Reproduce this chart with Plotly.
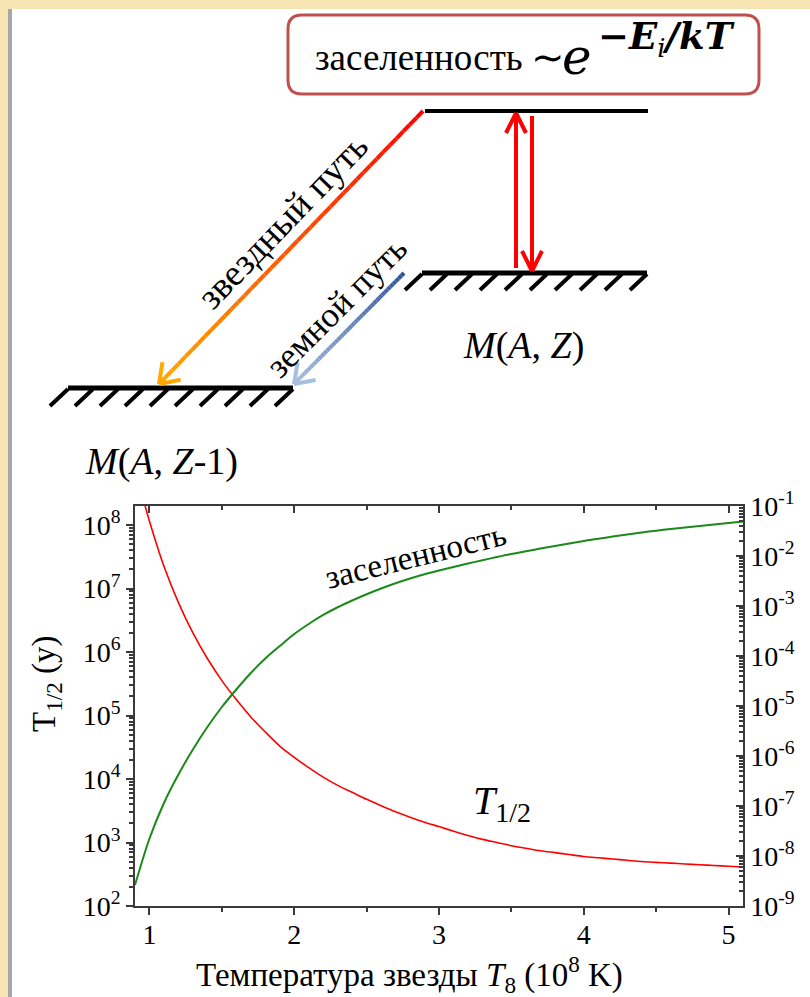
import math
import plotly.graph_objects as go

# ---------------- data ----------------
T_half = [0.97, 1.0, 1.1, 1.2, 1.3, 1.4, 1.5, 1.6, 1.7, 1.8, 1.9, 2.0, 2.1, 2.2, 2.3, 2.4,
          2.5, 2.6, 2.7, 2.8, 2.9, 3.0, 3.1, 3.2, 3.3, 3.4, 3.5, 3.6, 3.7, 3.8, 3.9, 4.0,
          4.1, 4.2, 4.3, 4.4, 4.5, 4.6, 4.7, 4.8, 4.9, 5.0, 5.1]
half_life_years = [2.0e8, 1.15e8, 2.24e7, 6.0e6, 2.0e6, 7.9e5, 3.55e5, 1.78e5, 9.5e4, 5.5e4,
                   3.3e4, 2.19e4, 1.51e4, 1.07e4, 7.94e3, 6.17e3, 4.79e3, 3.80e3, 3.05e3,
                   2.51e3, 2.09e3, 1.78e3, 1.51e3, 1.29e3, 1.12e3, 1.0e3, 891, 813, 741,
                   692, 646, 603, 575, 550, 525, 501, 486, 473, 459, 447, 434, 422, 412]

T_pop = [0.9, 1.0, 1.1, 1.2, 1.3, 1.4, 1.5, 1.6, 1.7, 1.8, 1.9, 2.0, 2.1, 2.2, 2.3, 2.4,
         2.5, 2.6, 2.7, 2.8, 2.9, 3.0, 3.1, 3.2, 3.3, 3.4, 3.5, 3.6, 3.7, 3.8, 3.9, 4.0,
         4.1, 4.2, 4.3, 4.4, 4.5, 4.6, 4.7, 4.8, 4.9, 5.0, 5.1]
population = [2.63e-9, 2.24e-8, 1.15e-7, 4.27e-7, 1.35e-6, 3.80e-6, 9.55e-6, 2.14e-5,
              4.57e-5, 8.91e-5, 1.58e-4, 2.75e-4, 4.37e-4, 6.61e-4, 9.44e-4, 1.29e-3,
              1.72e-3, 2.24e-3, 2.85e-3, 3.55e-3, 4.32e-3, 5.13e-3, 6.03e-3, 7.08e-3,
              8.22e-3, 9.55e-3, 1.10e-2, 1.24e-2, 1.41e-2, 1.58e-2, 1.78e-2, 2.0e-2,
              2.21e-2, 2.45e-2, 2.69e-2, 2.95e-2, 3.20e-2, 3.47e-2, 3.72e-2, 3.98e-2,
              4.27e-2, 4.57e-2, 4.90e-2]

x_tickvals = [1, 2, 3, 4, 5]
left_tickvals = [1e2, 1e3, 1e4, 1e5, 1e6, 1e7, 1e8]
left_ticktext = ["10<sup>2</sup>", "10<sup>3</sup>", "10<sup>4</sup>", "10<sup>5</sup>",
                 "10<sup>6</sup>", "10<sup>7</sup>", "10<sup>8</sup>"]
right_tickvals = [1e-9, 1e-8, 1e-7, 1e-6, 1e-5, 1e-4, 1e-3, 1e-2, 1e-1]
right_ticktext = ["10<sup>-9</sup>", "10<sup>-8</sup>", "10<sup>-7</sup>", "10<sup>-6</sup>",
                  "10<sup>-5</sup>", "10<sup>-4</sup>", "10<sup>-3</sup>", "10<sup>-2</sup>",
                  "10<sup>-1</sup>"]

# ---------------- layout geometry ----------------
W, H = 810, 997
PL, PR, PT, PB = 135, 743, 506, 906   # plot area in pixels
SERIF = "Liberation Serif"
MATH = "DejaVu Serif"


def px(x):
    return (x - PL) / (PR - PL)


def py(y):
    return (PB - y) / (PB - PT)


fig = go.Figure()
fig.add_trace(go.Scatter(x=T_half, y=half_life_years, mode="lines",
                         line=dict(color="#FF0000", width=1.6, shape="spline", smoothing=0.8),
                         xaxis="x", yaxis="y", hoverinfo="skip"))
fig.add_trace(go.Scatter(x=T_pop, y=population, mode="lines",
                         line=dict(color="#1A8A1A", width=2, shape="spline", smoothing=0.8),
                         xaxis="x2", yaxis="y2", hoverinfo="skip"))

AX = "#3A3A3A"
tickfont = dict(family=SERIF, size=28, color="black")

fig.update_layout(
    width=W, height=H, autosize=False,
    margin=dict(l=PL, r=W - PR, t=PT, b=H - PB, pad=0),
    paper_bgcolor="white", plot_bgcolor="white", showlegend=False,
    font=dict(family=SERIF),
    xaxis=dict(range=[0.9, 5.1], tickmode="array", tickvals=x_tickvals,
               ticks="outside", ticklen=7, tickwidth=1.5, tickcolor=AX, ticklabelstandoff=-4,
               minor=dict(dtick=0.5, tick0=1, ticks="outside", ticklen=4, tickcolor=AX, showgrid=False),
               showline=True, linecolor=AX, linewidth=1.5, showgrid=False, zeroline=False,
               tickfont=tickfont, anchor="y"),
    xaxis2=dict(range=[0.9, 5.1], overlaying="x", side="top", anchor="y2",
                tickmode="array", tickvals=x_tickvals, ticks="inside", ticklen=7, tickwidth=1.5,
                tickcolor=AX, showticklabels=False,
                minor=dict(dtick=0.5, tick0=1, ticks="inside", ticklen=4, tickcolor=AX, showgrid=False),
                showline=True, linecolor=AX, linewidth=1.5, showgrid=False, zeroline=False),
    yaxis=dict(type="log", range=[2, 8.3], tickmode="array", tickvals=left_tickvals,
               ticktext=left_ticktext, ticks="outside", ticklen=7, tickwidth=1.5, tickcolor=AX,
               minor=dict(dtick="D1", ticks="outside", ticklen=4, tickcolor=AX, showgrid=False),
               showline=True, linecolor=AX, linewidth=1.5, showgrid=False, zeroline=False,
               tickfont=tickfont, anchor="x"),
    yaxis2=dict(type="log", range=[-9, -1], overlaying="y", side="right", anchor="x2",
                tickmode="array", tickvals=right_tickvals, ticktext=right_ticktext,
                ticks="inside", ticklen=7, tickwidth=1.5, tickcolor=AX,
                minor=dict(dtick="D1", ticks="inside", ticklen=4, tickcolor=AX, showgrid=False),
                showline=True, linecolor=AX, linewidth=1.5, showgrid=False, zeroline=False,
                tickfont=tickfont),
)

# ---------------- decorative diagram (shapes) ----------------
shapes = []


def seg(x0, y0, x1, y1, color, width):
    shapes.append(dict(type="line", xref="paper", yref="paper",
                       x0=px(x0), y0=py(y0), x1=px(x1), y1=py(y1),
                       line=dict(color=color, width=width)))


def rect(x0, y0, x1, y1, color):
    shapes.append(dict(type="rect", xref="paper", yref="paper",
                       x0=px(x0), y0=py(y0), x1=px(x1), y1=py(y1),
                       line=dict(width=0), fillcolor=color, layer="below"))


def lerp_color(c0, c1, t):
    return "rgb(%d,%d,%d)" % tuple(round(a + (b - a) * t) for a, b in zip(c0, c1))


def gradient_arrow(x0, y0, x1, y1, c0, c1, width, head=22, n=40):
    for i in range(n):
        t0, t1 = i / n, (i + 1) / n
        seg(x0 + (x1 - x0) * t0, y0 + (y1 - y0) * t0,
            x0 + (x1 - x0) * t1, y0 + (y1 - y0) * t1,
            lerp_color(c0, c1, (t0 + t1) / 2), width)
    L = math.hypot(x1 - x0, y1 - y0)
    bx, by = (x0 - x1) / L, (y0 - y1) / L
    for ang in (35, -35):
        a = math.radians(ang)
        wx = bx * math.cos(a) - by * math.sin(a)
        wy = bx * math.sin(a) + by * math.cos(a)
        seg(x1, y1, x1 + wx * head, y1 + wy * head, lerp_color(c0, c1, 1), width)


def vert_arrow(x, y_from, y_to, color, width, head=20):
    seg(x, y_from, x, y_to, color, width)
    d = 1 if y_to > y_from else -1
    seg(x, y_to, x - 10, y_to - d * head, color, width)
    seg(x, y_to, x + 10, y_to - d * head, color, width)


def hatched_level(x0, x1, y, dx, dy, n=10):
    seg(x0, y, x1, y, "black", 5)
    step = (x1 - x0) / (n - 1)
    for k in range(n):
        xs = x0 + k * step
        seg(xs, y + 1, xs - dx, y + dy, "black", 4)


# page frame (beige border + grey line)
rect(0, 0, W, 9, "#F6E5B3")
rect(0, 0, 8, H, "#F6E5B3")
rect(8, 9, 12, H, "#A4A8AC")

# rounded box
bx0, by0, bx1, by1, r = 288, 15, 759, 94, 14
path = ("M {a},{b} L {c},{b} Q {d},{b} {d},{e} L {d},{f} Q {d},{g} {c},{g} "
        "L {a},{g} Q {h},{g} {h},{f} L {h},{e} Q {h},{b} {a},{b} Z").format(
    a=px(bx0 + r), b=py(by0), c=px(bx1 - r), d=px(bx1), e=py(by0 + r),
    f=py(by1 - r), g=py(by1), h=px(bx0))
shapes.append(dict(type="path", xref="paper", yref="paper", path=path,
                   line=dict(color="#C0504D", width=3), fillcolor="white"))

# upper (excited) level
seg(425, 111, 648, 111, "black", 4)
# lower right level M(A,Z)
hatched_level(422, 647, 273, 17, 290 - 273)
# lower left level M(A,Z-1)
hatched_level(68, 293, 388, 18, 406 - 388)

# vertical red arrows
vert_arrow(516, 268, 113, "#FF0000", 4)
vert_arrow(532, 116, 271, "#FF0000", 4)

# stellar path (red -> orange)
gradient_arrow(423, 111, 159, 384, (255, 0, 0), (255, 168, 0), 4)
# terrestrial path (dark blue -> light blue)
gradient_arrow(404, 273, 294, 384, (47, 85, 151), (168, 190, 224), 4)

fig.update_layout(shapes=shapes)

# ---------------- text ----------------
ann = []


def text(x, y, s, size, angle=0, xanchor="center", yanchor="middle", family=SERIF):
    ann.append(dict(xref="paper", yref="paper", x=px(x), y=py(y), text=s, showarrow=False,
                    textangle=angle, xanchor=xanchor, yanchor=yanchor,
                    font=dict(family=family, size=size, color="black")))


text(313, 58, "заселенность", 37, xanchor="left")
text(548, 57, "∼", 40)
text(577, 57, "<i>e</i>", 50, family=MATH)
text(596, 38, "<b><i>−E</i></b><sub><i>i</i></sub><b><i>/kT</i></b>", 37,
     xanchor="left", family=MATH)

text(282, 221, "звездный путь", 37, angle=-46)
text(336, 307, "земной путь", 35, angle=-45)
text(523, 345, "<i>M</i>(<i>A</i>, <i>Z</i>)", 38)
text(161, 461, "<i>M</i>(<i>A</i>, <i>Z</i>-1)", 38)

text(415, 556, "заселенность", 33, angle=-14)
text(502, 803, "<i>T</i><sub>1/2</sub>", 40)

text(46, 684, "T<sub>1/2</sub> (y)", 33, angle=-90)
text(409, 974, "Температура звезды <i>T</i><sub>8</sub> (10<sup>8</sup> K)", 33)

fig.update_layout(annotations=ann)

fig.write_html("out.html", config={"displayModeBar": False},
               post_script="document.body.style.margin='0';document.body.style.overflow='hidden';")
